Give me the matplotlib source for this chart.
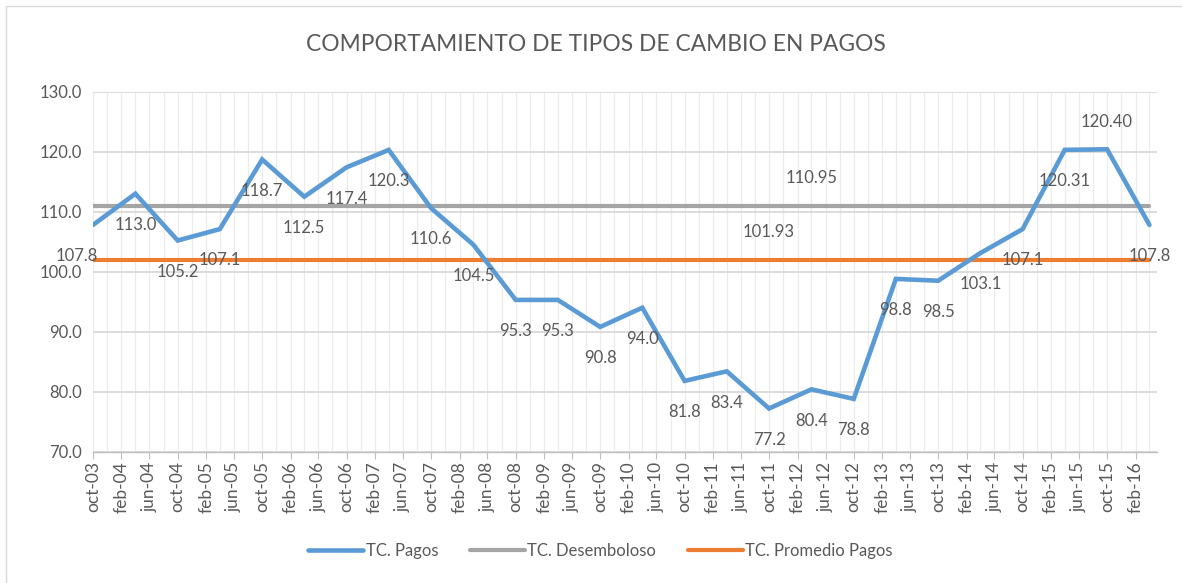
import matplotlib
matplotlib.use("Agg")
import matplotlib.pyplot as plt
import matplotlib.dates as mdates
from matplotlib.patches import Rectangle
import pandas as pd

plt.rcParams['font.family'] = ['Lato', 'DejaVu Sans']

# datos semestrales desde oct-03
fechas = pd.date_range("2003-10-01", periods=26, freq="6MS")
tc_pagos = [107.8, 113.0, 105.2, 107.1, 118.7, 112.5, 117.4, 120.3, 110.6, 104.5,
            95.3, 95.3, 90.8, 94.0, 81.8, 83.4, 77.2, 80.4, 78.8, 98.8,
            98.5, 103.1, 107.1, 120.31, 120.40, 107.8]
etiquetas_pagos = ["107.8", "113.0", "105.2", "107.1", "118.7", "112.5", "117.4", "120.3",
                   "110.6", "104.5", "95.3", "95.3", "90.8", "94.0", "81.8", "83.4",
                   "77.2", "80.4", "78.8", "98.8", "98.5", "103.1", "107.1", "120.31",
                   "120.40", "107.8"]
tc_desembolso = 110.95
tc_promedio = 101.93

# etiquetas del eje x (cada 4 meses)
ticks_x = pd.date_range("2003-10-01", "2016-02-01", freq="4MS")
etiquetas_x = ["oct-03", "feb-04", "jun-04", "oct-04", "feb-05", "jun-05", "oct-05",
               "feb-06", "jun-06", "oct-06", "feb-07", "jun-07", "oct-07", "feb-08",
               "jun-08", "oct-08", "feb-09", "jun-09", "oct-09", "feb-10", "jun-10",
               "oct-10", "feb-11", "jun-11", "oct-11", "feb-12", "jun-12", "oct-12",
               "feb-13", "jun-13", "oct-13", "feb-14", "jun-14", "oct-14", "feb-15",
               "jun-15", "oct-15", "feb-16"]

gris_txt = "#595959"
azul = "#5B9BD5"
gris = "#A5A5A5"
naranja = "#ED7D31"

fig = plt.figure(figsize=(11.82, 5.83), dpi=100)
ax = fig.add_axes([0.0787, 0.2252, 0.9002, 0.6175])

# borde del grafico
fig.patches.append(Rectangle((6 / 1182, -0.1), 1.2, 1.1 - 6 / 583, transform=fig.transFigure,
                             fill=False, edgecolor="#d9d9d9", linewidth=1.0))

ax.plot(fechas, tc_pagos, color=azul, lw=3.3, label="TC. Pagos", zorder=4,
        solid_joinstyle="miter", solid_capstyle="round")
ax.plot(fechas, [tc_desembolso] * len(fechas), color=gris, lw=3.0, label="TC. Desemboloso",
        zorder=3, solid_capstyle="round")
ax.plot(fechas, [tc_promedio] * len(fechas), color=naranja, lw=3.0, label="TC. Promedio Pagos",
        zorder=3, solid_capstyle="round")

# etiquetas de datos
for i, (f, v, t) in enumerate(zip(fechas, tc_pagos, etiquetas_pagos)):
    dx, dy = 0, -22.5
    if i == 0:
        dx = -12
    if i == 24:
        dy = 20
    ax.annotate(t, (f, v), xytext=(dx, dy), textcoords="offset points",
                ha="center", va="center", fontsize=12, color=gris_txt, zorder=5)
ax.annotate(f"{tc_desembolso:.2f}", (fechas[17], tc_desembolso), xytext=(0, 20),
            textcoords="offset points", ha="center", va="center", fontsize=12, color=gris_txt)
ax.annotate(f"{tc_promedio:.2f}", (fechas[16], tc_promedio), xytext=(0, 20),
            textcoords="offset points", ha="center", va="center", fontsize=12, color=gris_txt)

ax.set_ylim(70, 130)
ax.set_yticks(range(70, 131, 10))
ax.set_yticklabels([f"{v:.1f}" for v in range(70, 131, 10)])
ax.set_xlim(pd.Timestamp("2003-10-01"), pd.Timestamp("2016-05-04"))
ax.set_xticks(ticks_x)
ax.set_xticklabels(etiquetas_x, rotation=90)
ax.xaxis.set_minor_locator(mdates.MonthLocator(bymonth=[2, 4, 6, 8, 10, 12]))

ax.grid(axis="y", which="major", color="#d9d9d9", lw=1.3)
ax.grid(axis="x", which="minor", color="#ececec", lw=0.9)
ax.grid(axis="x", which="major", color="#ececec", lw=0.9)
ax.set_axisbelow(True)

for s in ["top", "right", "left"]:
    ax.spines[s].set_visible(False)
ax.spines["bottom"].set_color("#bfbfbf")
ax.spines["bottom"].set_linewidth(1.0)
ax.tick_params(axis="y", length=0, labelsize=12, labelcolor=gris_txt, pad=8)
ax.tick_params(axis="x", which="major", length=5, color="#bfbfbf", labelsize=12.5,
               labelcolor=gris_txt, pad=2)
ax.tick_params(axis="x", which="minor", length=0)

fig.text(0.504, 0.9245, "COMPORTAMIENTO DE TIPOS DE CAMBIO EN PAGOS", ha="center",
         va="center", fontsize=16.4, color=gris_txt)

fig.legend(loc="center", bbox_to_anchor=(0.508, 0.0555), ncol=3, frameon=False,
           fontsize=12, labelcolor=gris_txt, handlelength=3.3, handletextpad=0.15,
           columnspacing=1.9)

fig.savefig("out.png", dpi=100)
